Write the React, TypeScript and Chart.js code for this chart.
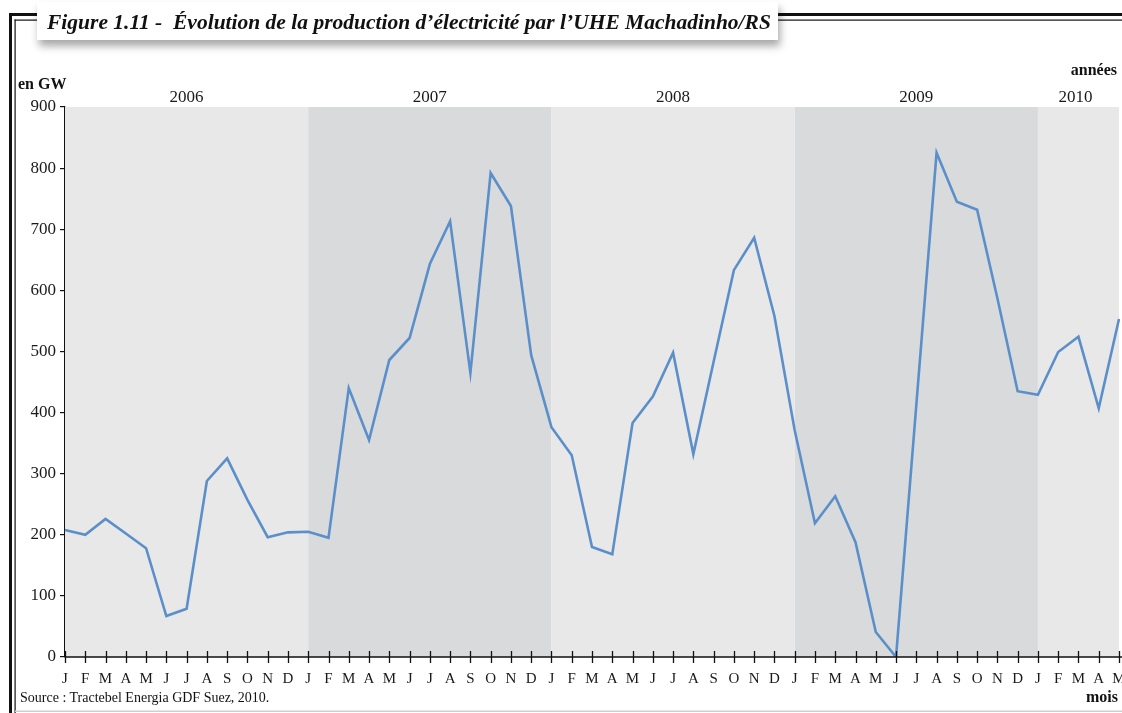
import React, { useEffect, useRef } from "react";
import { Chart, registerables } from "chart.js";

Chart.register(...registerables);

const years = ["2006", "2007", "2008", "2009", "2010"];
const monthInitials = ["J", "F", "M", "A", "M", "J", "J", "A", "S", "O", "N", "D"];
const monthLabels = [
  ...monthInitials, ...monthInitials, ...monthInitials, ...monthInitials,
  "J", "F", "M", "A", "M",
];
const production = [
  208, 200, 226, 202, 178, 67, 79, 288, 325, 257, 196, 204,
  205, 195, 440, 355, 486, 522, 643, 713, 465, 792, 738, 494,
  376, 330, 180, 168, 383, 426, 498, 332, 483, 633, 686, 558,
  371, 219, 263, 188, 41, 0, 412, 825, 745, 732, 587, 435,
  429, 499, 524, 407, 553,
];
const yTicks = [0, 100, 200, 300, 400, 500, 600, 700, 800, 900];

const FONT = "'Liberation Serif', 'Times New Roman', serif";

const decorPlugin = {
  id: "decor",
  beforeDraw(chart: any) {
    const ctx = chart.ctx;
    ctx.save();
    ctx.fillStyle = "#ffffff";
    ctx.fillRect(0, 0, chart.width, chart.height);
    // frame
    ctx.fillStyle = "#111";
    ctx.fillRect(9, 13, 3, chart.height - 13);
    ctx.fillRect(9, 13, chart.width - 9, 3);
    ctx.fillRect(14.5, 19.5, 1.2, chart.height - 19.5);
    ctx.fillRect(14.5, 19.5, chart.width - 14.5, 1.2);
    ctx.fillStyle = "#cfcfcf";
    ctx.fillRect(15, 710.5, chart.width - 15, 1.5);
    ctx.restore();
  },
  beforeDatasetsDraw(chart: any) {
    const ctx = chart.ctx;
    const x = chart.scales.x;
    const area = chart.chartArea;
    ctx.save();
    years.forEach((yr, i) => {
      const x0 = Math.max(area.left, x.getPixelForValue(i * 12));
      const x1 = Math.min(area.right, x.getPixelForValue(Math.min((i + 1) * 12, monthLabels.length - 1)) + (i === years.length - 1 ? 2 : 0));
      ctx.fillStyle = i % 2 === 0 ? "#e8e8e8" : "#d9dadc";
      ctx.fillRect(x0, area.top, x1 - x0, area.bottom - area.top);
      ctx.fillStyle = "#1a1a1a";
      ctx.font = "17px " + FONT;
      ctx.textAlign = "center";
      ctx.textBaseline = "alphabetic";
      ctx.fillText(yr, (x0 + x1) / 2 - (i === years.length - 1 ? 3 : 0), area.top - 5);
    });
    ctx.restore();
  },
  afterDraw(chart: any) {
    const ctx = chart.ctx;
    const x = chart.scales.x;
    const area = chart.chartArea;
    ctx.save();
    ctx.strokeStyle = "#111";
    ctx.lineWidth = 1.3;
    ctx.beginPath();
    ctx.moveTo(area.left - 0.5, area.bottom);
    ctx.lineTo(chart.width, area.bottom);
    for (let i = 0; i < monthLabels.length; i++) {
      const px = Math.round(x.getPixelForValue(i)) + 0.5;
      ctx.moveTo(px, area.bottom - 6);
      ctx.lineTo(px, area.bottom + 6);
    }
    ctx.stroke();
    ctx.restore();
  },
};

export default function App() {
  const ref = useRef<HTMLCanvasElement>(null);

  useEffect(() => {
    if (!ref.current) return;
    const chart = new Chart(ref.current, {
      type: "line",
      data: {
        labels: monthLabels,
        datasets: [
          {
            data: production,
            borderColor: "#5b8fc9",
            borderWidth: 2.6,
            pointRadius: 0,
            tension: 0,
            fill: false,
          },
        ],
      },
      options: {
        animation: false,
        responsive: false,
        layout: { padding: { top: 107, right: 3, left: 0, bottom: 0 } },
        plugins: { legend: { display: false }, tooltip: { enabled: false } },
        scales: {
          x: {
            type: "category",
            offset: false,
            grid: { display: false },
            border: { display: false },
            ticks: {
              autoSkip: false,
              maxRotation: 0,
              padding: 5,
              color: "#1a1a1a",
              font: { family: FONT, size: 15 },
            },
            afterFit(scale: any) {
              scale.height = 56;
              scale.paddingLeft = 0;
              scale.paddingRight = 0;
            },
          },
          y: {
            min: 0,
            max: 900,
            afterBuildTicks(scale: any) {
              scale.ticks = yTicks.map((v) => ({ value: v }));
            },
            grid: {
              drawOnChartArea: false,
              tickLength: 5,
              color: "#111",
              lineWidth: 1.2,
            },
            border: { display: true, color: "#111", width: 1.3 },
            ticks: {
              padding: 4,
              color: "#1a1a1a",
              font: { family: FONT, size: 17 },
            },
            afterFit(scale: any) {
              scale.width = 65;
              scale.paddingTop = 0;
              scale.paddingBottom = 0;
            },
          },
        },
      },
      plugins: [decorPlugin],
    });
    return () => chart.destroy();
  }, []);

  const abs = (style: React.CSSProperties): React.CSSProperties => ({
    position: "absolute",
    fontFamily: FONT,
    color: "#111",
    whiteSpace: "nowrap",
    lineHeight: 1,
    ...style,
  });

  return (
    <div style={{ position: "fixed", left: 0, top: 0, width: 1122, height: 713, background: "#fff", overflow: "hidden" }}>
      <canvas ref={ref} width={1122} height={713} style={{ position: "absolute", left: 0, top: 0 }} />
      <div
        style={abs({
          left: 37,
          top: 2,
          width: 741,
          height: 38,
          background: "#fff",
          boxShadow: "2px 6px 8px rgba(0,0,0,0.35)",
        })}
      />
      <div style={abs({ left: 47, top: 12, fontSize: 21.5, fontStyle: "italic", fontWeight: "bold" })}>
        Figure 1.11 -&nbsp; Évolution de la production d’électricité par l’UHE Machadinho/RS
      </div>
      <div style={abs({ left: 18, top: 76, fontSize: 16, fontWeight: "bold" })}>en GW</div>
      <div style={abs({ right: 5, top: 62, fontSize: 16, fontWeight: "bold" })}>années</div>
      <div style={abs({ right: 4, top: 689, fontSize: 16, fontWeight: "bold" })}>mois</div>
      <div style={abs({ left: 20, top: 691, fontSize: 14 })}>Source : Tractebel Energia GDF Suez, 2010.</div>
    </div>
  );
}
